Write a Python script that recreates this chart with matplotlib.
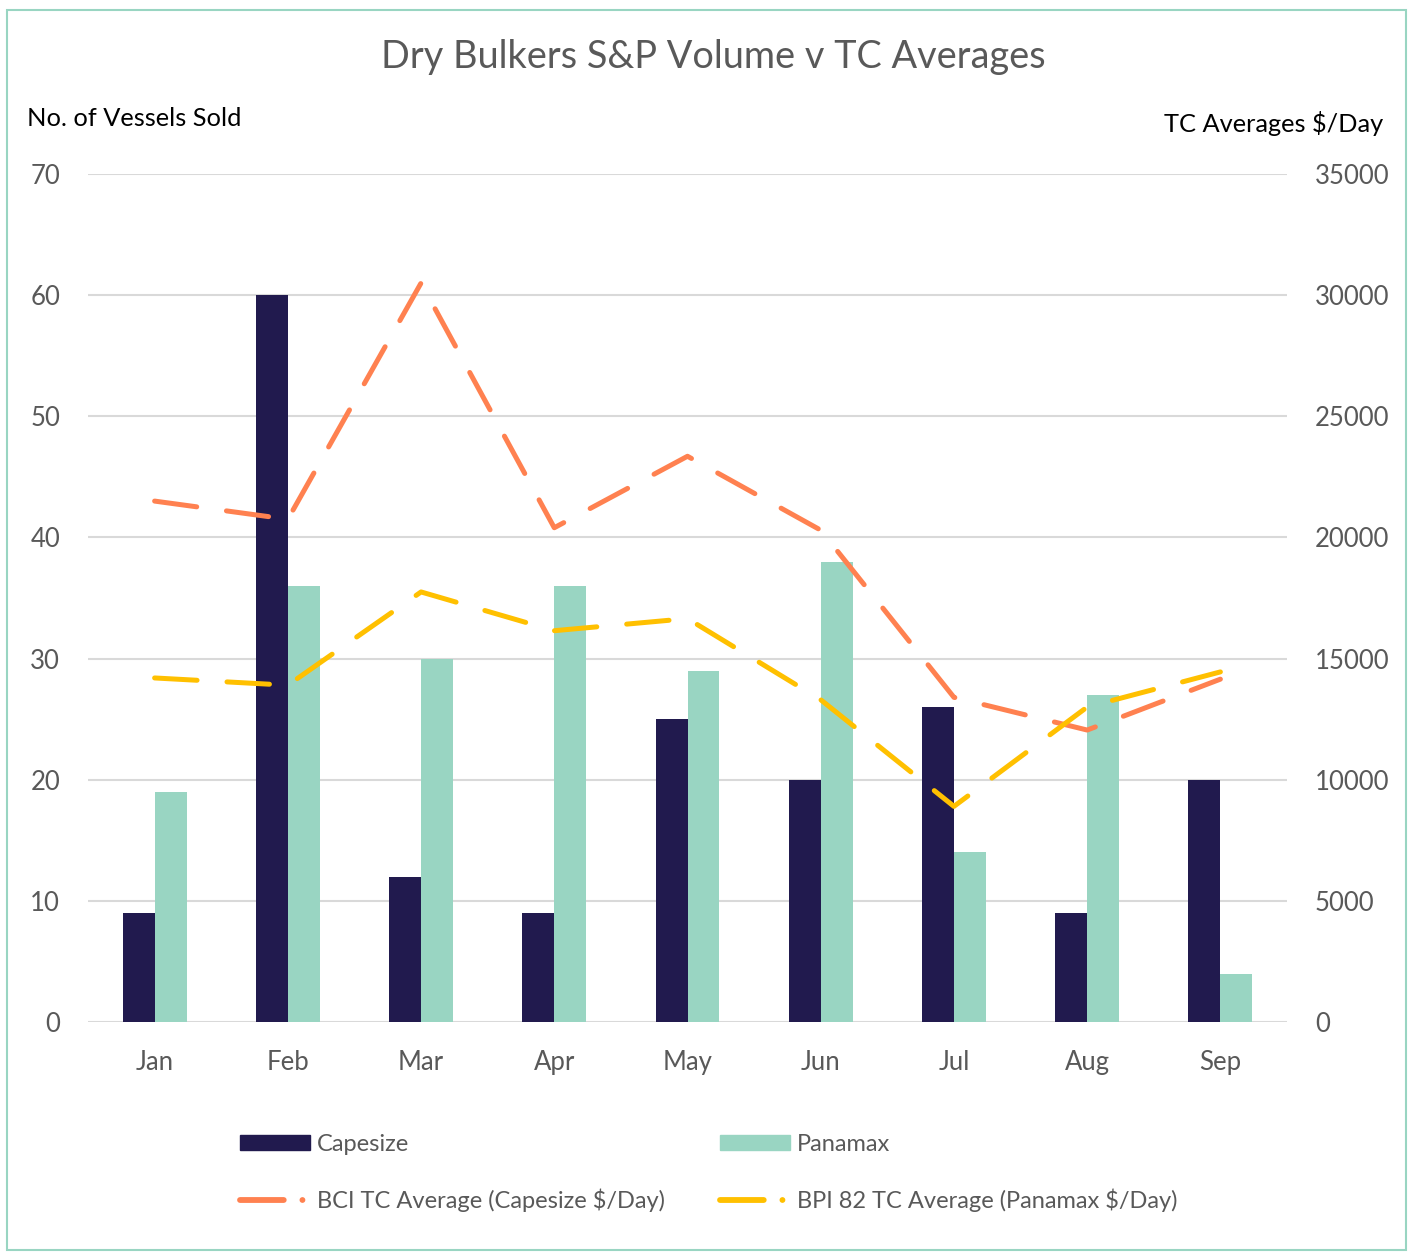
import numpy as np
import matplotlib.pyplot as plt
from matplotlib.patches import Rectangle
from matplotlib.lines import Line2D
from matplotlib.patches import Patch

plt.rcParams['font.family'] = ['Lato', 'DejaVu Sans']

# -------------------------
# Data
# -------------------------

months = ["Jan", "Feb", "Mar", "Apr", "May", "Jun", "Jul", "Aug", "Sep"]
capesize = [9, 60, 12, 9, 25, 20, 26, 9, 20]
panamax = [19, 36, 30, 36, 29, 38, 14, 27, 4]
bci_avg = [21500, 20750, 30500, 20400, 23350, 20300, 13400, 12050, 14150]
bpi_avg = [14200, 13900, 17750, 16150, 16650, 13300, 8900, 13000, 14450]

left_ticks = [0, 10, 20, 30, 40, 50, 60, 70]
right_ticks = [0, 5000, 10000, 15000, 20000, 25000, 30000, 35000]

navy = "#211a4e"
mint = "#99d5c2"
orange = "#ff8150"
gold = "#ffc000"
grid_c = "#d9d9d9"
tick_c = "#595959"

# -------------------------
# Figure
# -------------------------

fig = plt.figure(figsize=(14.1, 12.53), dpi=100)
W, H = 1410, 1253
ax = fig.add_axes([88 / W, 1 - 1022 / H, (1287 - 88) / W, (1022 - 174) / H])

x = np.arange(len(months))
bw = 0.24

ax.bar(x - bw / 2, capesize, bw, color=navy, zorder=2)
ax.bar(x + bw / 2, panamax, bw, color=mint, zorder=2)

ax.set_xlim(-0.5, len(months) - 0.5)
ax.set_ylim(0, 70)
ax.set_yticks(left_ticks)
ax.set_xticks(x)
ax.set_xticklabels(months)
ax.yaxis.grid(True, color=grid_c, linewidth=1.5, zorder=0)
ax.set_axisbelow(True)
for s in ax.spines.values():
    s.set_visible(False)
ax.tick_params(length=0, labelsize=18.5, labelcolor=tick_c)
ax.tick_params(axis="y", pad=20)
ax.tick_params(axis="x", pad=20)

ax2 = ax.twinx()
ax2.set_ylim(0, 35000)
ax2.set_yticks(right_ticks)
for s in ax2.spines.values():
    s.set_visible(False)
ax2.tick_params(length=0, labelsize=18.5, labelcolor=tick_c, pad=20)

dash = (0, (8.5, 6))
ax2.plot(x, bci_avg, color=orange, lw=3.6, linestyle=dash,
         dash_capstyle="round", zorder=3)
ax2.plot(x, bpi_avg, color=gold, lw=3.6, linestyle=dash,
         dash_capstyle="round", zorder=3)

fig.text(713 / W, 1 - 57 / H, "Dry Bulkers S&P Volume v TC Averages",
         ha="center", va="center", fontsize=27.3, color=tick_c)
fig.text(27 / W, 1 - 118 / H, "No. of Vessels Sold", ha="left",
         va="center", fontsize=18.3, color="black")
fig.text(1383 / W, 1 - 124 / H, "TC Averages $/Day", ha="right",
         va="center", fontsize=18.3, color="black")

# -------------------------
# Legend
# -------------------------

leg_dash = (0, (7.5, 3.2, 0.01, 20))
handles = [
    Patch(color=navy),
    Line2D([], [], color=orange, lw=4.2, linestyle=leg_dash,
           dash_capstyle="round"),
    Patch(color=mint),
    Line2D([], [], color=gold, lw=4.2, linestyle=leg_dash,
           dash_capstyle="round"),
]
labels = ["Capesize", "BCI TC Average (Capesize $/Day)",
          "Panamax", "BPI 82 TC Average (Panamax $/Day)"]
fig.legend(handles, labels, ncol=2, loc="center left",
           bbox_to_anchor=(221 / W, 1 - 1173 / H), frameon=False,
           fontsize=17, labelcolor=tick_c, handlelength=2.95,
           handleheight=0.6, handletextpad=0.3, columnspacing=2.35,
           labelspacing=1.45, borderpad=0.3)

fig.patches.append(Rectangle((7 / W, 3 / H), 1399 / W, 1 - 13 / H,
                             transform=fig.transFigure, fill=False,
                             edgecolor="#99d5c2", linewidth=1.5))

fig.savefig("out.png", dpi=100)
